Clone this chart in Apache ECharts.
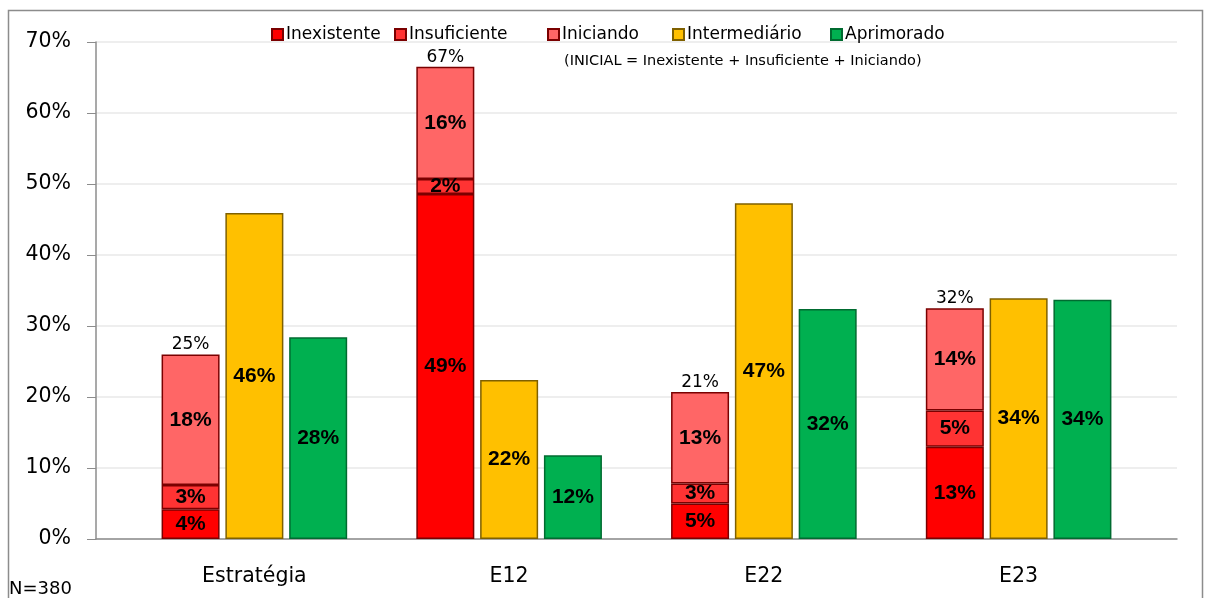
<!DOCTYPE html>
<html>
<head>
<meta charset="utf-8">
<script src="https://cdn.jsdelivr.net/npm/echarts@6/dist/echarts.min.js"></script>
<style>
  html, body { margin: 0; padding: 0; background: #fff; }
  #main { width: 1205px; height: 598px; }
</style>
</head>
<body>
<div id="main"></div>
<script>
// dados (%)
var categorias = ['Estratégia', 'E12', 'E22', 'E23'];
var inexistente = [4.2, 48.6, 5.0, 13.0];
var insuficiente = [3.4, 2.1, 2.8, 5.1];
var iniciando = [18.4, 15.8, 12.9, 14.4];
var intermediario = [45.9, 22.4, 47.3, 33.9];
var aprimorado = [28.4, 11.8, 32.4, 33.7];
var totalInicial = [25, 67, 21, 32]; // rótulo acima da barra empilhada
var ticksY = [0, 10, 20, 30, 40, 50, 60, 70];
var nomesLegenda = ['Inexistente', 'Insuficiente', 'Iniciando', 'Intermediário', 'Aprimorado'];
var legendaX = [266, 389, 542, 667, 825]; // posição de cada item da legenda

var chart = echarts.init(document.getElementById('main'));

var rotulo = {
  show: true,
  position: 'inside',
  color: '#000',
  fontFamily: 'Liberation Sans',
  fontWeight: 'bold',
  fontSize: 21,
  formatter: function (p) { return Math.round(p.value) + '%'; }
};

function barra(nome, dados, cor, borda, pilha) {
  return {
    name: nome,
    type: 'bar',
    stack: pilha,
    xAxisIndex: 0,
    yAxisIndex: 0,
    data: dados,
    barWidth: 58,
    itemStyle: { color: cor, borderColor: borda, borderWidth: 1.5 },
    label: rotulo
  };
}

// um componente de legenda por item, para acertar o espaçamento
var legendas = nomesLegenda.map(function (nome, i) {
  return {
    top: 21,
    left: legendaX[i],
    icon: 'rect',
    itemWidth: 11,
    itemHeight: 11,
    textStyle: { fontSize: 17, color: '#000', fontFamily: 'DejaVu Sans', padding: [0, 0, 0, -2] },
    data: [nome]
  };
});

chart.setOption({
  animation: false,
  textStyle: { fontFamily: 'DejaVu Sans' },
  graphic: [
    {
      type: 'rect',
      shape: { x: 8.5, y: 10.5, width: 1194, height: 600 },
      style: { fill: null, stroke: '#8c8c8c', lineWidth: 1.5 }
    },
    {
      type: 'text',
      left: 564, top: 54,
      style: { text: '(INICIAL = Inexistente + Insuficiente + Iniciando)', fill: '#000', fontSize: 14.5, fontFamily: 'DejaVu Sans' }
    },
    {
      type: 'text',
      left: 9, top: 580,
      style: { text: 'N=380', fill: '#000', fontSize: 18, fontFamily: 'DejaVu Sans' }
    }
  ],
  legend: legendas,
  grid: [
    { left: 127, right: 59, top: 42, bottom: 59 }, // barras
    { left: 96, right: 28, top: 42, bottom: 59 }   // eixos e linhas de grade
  ],
  xAxis: [
    {
      type: 'category',
      gridIndex: 0,
      data: categorias,
      axisLine: { show: false },
      axisTick: { show: false },
      axisLabel: { color: '#000', fontSize: 20.5, margin: 27 }
    },
    {
      type: 'value',
      gridIndex: 1,
      min: 0, max: 1,
      axisLine: { show: true, lineStyle: { color: '#8c8c8c', width: 1.5 } },
      axisTick: { show: false },
      axisLabel: { show: false },
      splitLine: { show: false }
    }
  ],
  yAxis: [
    {
      type: 'value',
      gridIndex: 0,
      min: 0, max: 70, interval: 10,
      show: false
    },
    {
      type: 'value',
      gridIndex: 1,
      min: 0, max: 70, interval: 10,
      axisLine: { show: true, lineStyle: { color: '#8c8c8c', width: 1.5 } },
      axisTick: { show: true, length: 9, lineStyle: { color: '#8c8c8c' } },
      splitLine: { lineStyle: { color: '#e8e8e8', width: 1.5 } },
      axisLabel: {
        color: '#000', fontSize: 20.5, margin: 25,
        formatter: function (v) { return ticksY.indexOf(v) >= 0 ? v + '%' : ''; }
      }
    }
  ],
  series: [
    barra('Inexistente', inexistente, '#ff0000', '#7a0000', 'inicial'),
    barra('Insuficiente', insuficiente, '#ff3333', '#7a0000', 'inicial'),
    barra('Iniciando', iniciando, '#ff6666', '#7a0000', 'inicial'),
    {
      // série auxiliar só para o total acima da barra INICIAL
      name: 'total',
      type: 'bar',
      stack: 'inicial',
      data: totalInicial.map(function () { return 0; }),
      barWidth: 58,
      itemStyle: { color: 'transparent', borderWidth: 0 },
      label: {
        show: true, position: 'top', distance: 1,
        color: '#000', fontSize: 17, fontFamily: 'DejaVu Sans',
        formatter: function (p) { return totalInicial[p.dataIndex] + '%'; }
      }
    },
    Object.assign(barra('Intermediário', intermediario, '#ffc000', '#7f6000'), { barGap: '10%' }),
    barra('Aprimorado', aprimorado, '#00b050', '#006b30')
  ]
});
</script>
</body>
</html>
